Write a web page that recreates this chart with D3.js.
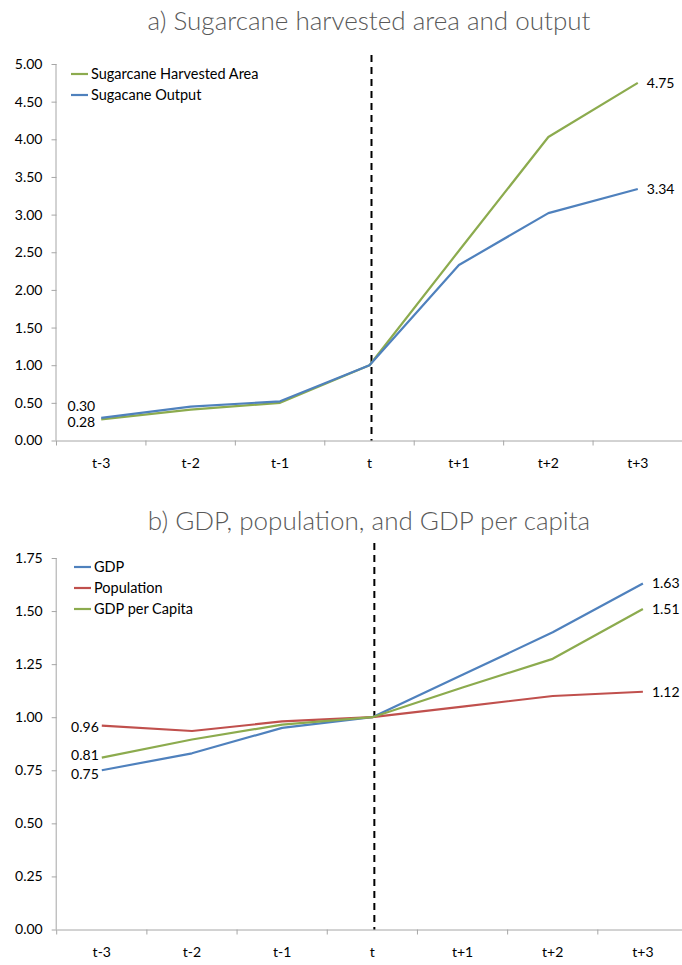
<!DOCTYPE html>
<html>
<head>
<meta charset="utf-8">
<script src="https://cdn.jsdelivr.net/npm/d3@7"></script>
<style>
  body { margin: 0; background: #fff; }
  svg { display: block; }
  text { font-family: Lato, "Open Sans", sans-serif; }
</style>
</head>
<body>
<svg id="chart" width="682" height="965"></svg>
<script>
// ---------- data ----------
const categories = ["t-3", "t-2", "t-1", "t", "t+1", "t+2", "t+3"];

const titleA = "a) Sugarcane harvested area and output";
const harvestedArea = [0.28, 0.41, 0.50, 1.00, 2.52, 4.03, 4.75];
const sugarcaneOutput = [0.30, 0.45, 0.52, 1.00, 2.33, 3.02, 3.34];
const ticksA = [0, 0.5, 1, 1.5, 2, 2.5, 3, 3.5, 4, 4.5, 5];

const titleB = "b) GDP, population, and GDP per capita";
const gdp = [0.75, 0.83, 0.95, 1.00, 1.20, 1.40, 1.63];
const population = [0.96, 0.935, 0.98, 1.00, 1.05, 1.10, 1.12];
const gdpPerCapita = [0.81, 0.895, 0.965, 1.00, 1.14, 1.275, 1.51];
const ticksB = [0, 0.25, 0.5, 0.75, 1, 1.25, 1.5, 1.75];

const GREEN = "#8cab4e", BLUE = "#4f81bd", RED = "#c0504d";

const svg = d3.select("#chart");

function drawChart(cfg) {
  const g = svg.append("g");
  const x = d3.scaleBand().domain(categories).range([cfg.x0, cfg.x1]).padding(0);
  const y = d3.scaleLinear().domain([0, cfg.ymax]).range([cfg.yBottom, cfg.yTop]);
  const cx = c => x(c) + x.bandwidth() / 2;

  // title
  g.append("text")
    .attr("x", 369)
    .attr("y", cfg.titleY)
    .attr("text-anchor", "middle")
    .style("font-size", "26px")
    .style("font-weight", 300)
    .style("fill", "#595959")
    .text(cfg.title);

  // y axis
  const yAxis = g.append("g")
    .attr("transform", `translate(${cfg.x0},0)`)
    .call(d3.axisLeft(y).tickValues(cfg.ticks).tickFormat(d3.format(".2f")).tickSize(5).tickPadding(9));
  yAxis.select(".domain").attr("stroke", "#a6a6a6").attr("d", `M-0.5,${cfg.yBottom}V${cfg.yTop}`);
  yAxis.selectAll(".tick line").attr("stroke", "#a6a6a6");
  yAxis.selectAll(".tick text").style("font-size", "14px").style("fill", "#000").style("font-family", "Lato");

  // x axis with labels centered, ticks at boundaries
  const xAxis = g.append("g")
    .attr("transform", `translate(0,${cfg.yBottom})`)
    .call(d3.axisBottom(x).tickSize(0).tickPadding(18));
  xAxis.select(".domain").attr("stroke", "#a6a6a6");
  xAxis.selectAll(".tick text").style("font-size", "14px").style("fill", "#000").style("font-family", "Lato");
  const bounds = categories.map(c => x(c)).concat([cfg.x1]);
  xAxis.selectAll(".bt").data(bounds).enter().append("line")
    .attr("x1", d => d).attr("x2", d => d)
    .attr("y1", 0).attr("y2", 5)
    .attr("stroke", "#a6a6a6");

  // dashed vertical line at t
  g.append("line")
    .attr("x1", cx("t") + 2).attr("x2", cx("t") + 2)
    .attr("y1", cfg.dashTop).attr("y2", cfg.yBottom)
    .attr("stroke", "#000").attr("stroke-width", 2)
    .attr("stroke-dasharray", "7,5");

  // lines
  const line = d3.line().x((d, i) => cx(categories[i])).y(d => y(d));
  cfg.series.forEach(s => {
    g.append("path")
      .datum(s.values)
      .attr("fill", "none")
      .attr("stroke", s.color)
      .attr("stroke-width", 2.2)
      .attr("stroke-linejoin", "round")
      .attr("d", line);
  });

  // end labels
  const last = categories.length - 1;
  cfg.series.forEach(s => {
    g.append("text")
      .attr("x", cx(categories[last]) + 9)
      .attr("y", y(s.values[last]) + (s.endDy || 0))
      .attr("dy", "0.35em")
      .style("font-size", "14px")
      .text(s.values[last].toFixed(2));
    g.append("text")
      .attr("x", cx(categories[0]) - cfg.startGap)
      .attr("y", y(s.values[0]) + (s.startDy || 0))
      .attr("dy", "0.35em")
      .attr("text-anchor", "end")
      .style("font-size", "14px")
      .text(s.values[0].toFixed(2));
  });

  // legend
  cfg.series.forEach((s, i) => {
    const ly = cfg.legendY + i * cfg.legendStep;
    g.append("line")
      .attr("x1", cfg.legendX).attr("x2", cfg.legendX + 17)
      .attr("y1", ly).attr("y2", ly)
      .attr("stroke", s.color).attr("stroke-width", 2.2);
    g.append("text")
      .attr("x", cfg.legendX + 20)
      .attr("y", ly)
      .attr("dy", "0.35em")
      .style("font-size", "14.5px")
      .text(s.name);
  });
}

drawChart({
  title: titleA, titleY: 30,
  x0: 56.5, x1: 682.5, yBottom: 440.5, yTop: 64, ymax: 5, ticks: ticksA,
  dashTop: 55, startGap: 6,
  legendX: 71, legendY: 74, legendStep: 21,
  series: [
    { name: "Sugarcane Harvested Area", values: harvestedArea, color: GREEN, startDy: 3 },
    { name: "Sugacane Output", values: sugarcaneOutput, color: BLUE, startDy: -12 }
  ]
});

drawChart({
  title: titleB, titleY: 530,
  x0: 56.7, x1: 688, yBottom: 929.5, yTop: 558, ymax: 1.75, ticks: ticksB,
  dashTop: 543, startGap: 3,
  legendX: 74, legendY: 567, legendStep: 21,
  series: [
    { name: "GDP", values: gdp, color: BLUE, startDy: 4 },
    { name: "Population", values: population, color: RED, startDy: 1 },
    { name: "GDP per Capita", values: gdpPerCapita, color: GREEN, startDy: -2 }
  ]
});
</script>
</body>
</html>
